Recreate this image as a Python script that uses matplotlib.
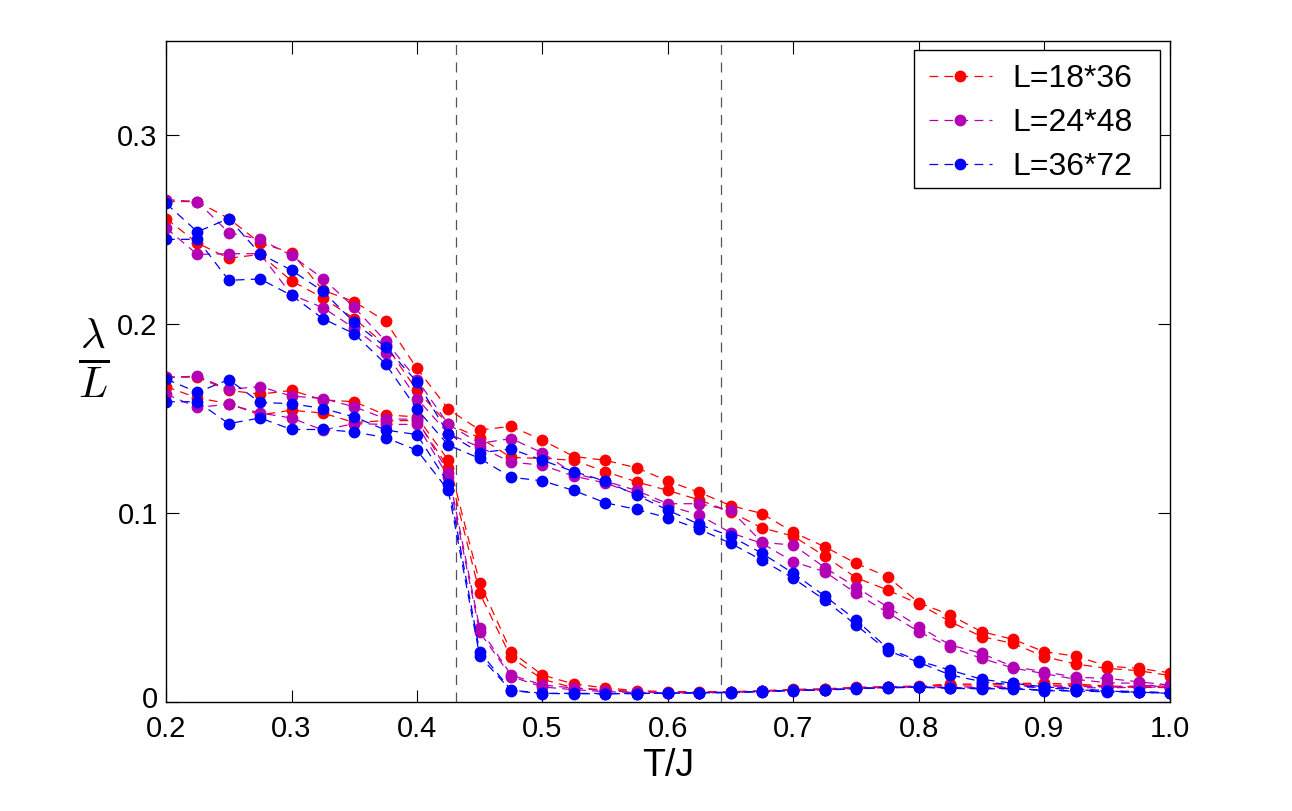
import matplotlib
matplotlib.use("Agg")
import matplotlib.pyplot as plt
import matplotlib.transforms as mtransforms
from matplotlib.patches import Rectangle
import numpy as np

plt.rcParams['font.family'] = ['Liberation Sans', 'DejaVu Sans']

# temperature grid T/J
T = np.round(np.arange(0.2, 1.0001, 0.025), 3)

# upper branch (slow decay), two curves per size
red_up_a = [0.265, 0.265, 0.256, 0.243, 0.238, 0.218, 0.212, 0.2016, 0.1766, 0.155, 0.144, 0.146, 0.1386,
            0.130, 0.128, 0.124, 0.117, 0.111, 0.104, 0.0998, 0.0898, 0.0822, 0.0734, 0.0663, 0.0526,
            0.046, 0.0372, 0.0332, 0.0266, 0.0243, 0.019, 0.0178, 0.0155]
red_up_b = [0.256, 0.243, 0.235, 0.237, 0.223, 0.214, 0.203, 0.189, 0.165, 0.147, 0.140, 0.1295, 0.129,
            0.128, 0.122, 0.1166, 0.112, 0.107, 0.1007, 0.0922, 0.0878, 0.0772, 0.0658, 0.0593, 0.0519,
            0.0425, 0.0346, 0.031, 0.024, 0.0201, 0.0178, 0.0166, 0.0140]
mag_up_a = [0.266, 0.265, 0.2485, 0.245, 0.2365, 0.2242, 0.209, 0.191, 0.1707, 0.147, 0.137, 0.1395, 0.1319,
            0.121, 0.117, 0.112, 0.105, 0.105, 0.1015, 0.0845, 0.0831, 0.0712, 0.0607, 0.0504, 0.0399,
            0.0302, 0.0257, 0.0187, 0.016, 0.0131, 0.0125, 0.0107, 0.009]
mag_up_b = [0.251, 0.237, 0.2374, 0.2374, 0.2157, 0.2088, 0.198, 0.185, 0.1607, 0.142, 0.135, 0.127, 0.1254,
            0.1196, 0.116, 0.110, 0.104, 0.099, 0.0896, 0.084, 0.0742, 0.069, 0.0575, 0.0473, 0.0372,
            0.029, 0.0231, 0.018, 0.015, 0.012, 0.0102, 0.0099, 0.0072]
blu_up_a = [0.264, 0.249, 0.256, 0.2374, 0.2286, 0.2175, 0.201, 0.188, 0.1695, 0.142, 0.132, 0.134, 0.128,
            0.122, 0.117, 0.1095, 0.1016, 0.094, 0.0878, 0.0787, 0.0681, 0.0561, 0.0434, 0.0284, 0.0217,
            0.0169, 0.012, 0.0099, 0.008, 0.007, 0.006, 0.0055, 0.0048]
blu_up_b = [0.245, 0.245, 0.2233, 0.224, 0.2153, 0.203, 0.195, 0.179, 0.155, 0.136, 0.129, 0.119, 0.1171,
            0.112, 0.1055, 0.102, 0.0975, 0.0915, 0.084, 0.0751, 0.0654, 0.054, 0.0407, 0.0272, 0.021,
            0.0143, 0.0108, 0.009, 0.0075, 0.0065, 0.0058, 0.0052, 0.0046]

# lower branch (drops to zero), two curves per size
red_lo_a = [0.172, 0.172, 0.165, 0.163, 0.165, 0.160, 0.159, 0.152, 0.151, 0.128, 0.063, 0.0266, 0.0143,
            0.0095, 0.0075, 0.006, 0.0055, 0.0055, 0.0055, 0.006, 0.0067, 0.007, 0.0078, 0.0081, 0.0085,
            0.0095, 0.0095, 0.0099, 0.0099, 0.0095, 0.0085, 0.008, 0.008]
red_lo_b = [0.167, 0.161, 0.158, 0.152, 0.1545, 0.153, 0.148, 0.149, 0.149, 0.124, 0.0575, 0.0236, 0.012,
            0.0075, 0.0065, 0.0055, 0.005, 0.005, 0.0052, 0.0058, 0.0063, 0.0068, 0.0075, 0.008, 0.0082,
            0.009, 0.009, 0.0092, 0.009, 0.0088, 0.008, 0.0078, 0.0076]
mag_lo_a = [0.172, 0.1725, 0.1656, 0.167, 0.162, 0.1607, 0.1563, 0.150, 0.1496, 0.1215, 0.039, 0.0143, 0.009,
            0.0074, 0.006, 0.0052, 0.005, 0.005, 0.0052, 0.0058, 0.0063, 0.0066, 0.0074, 0.0078, 0.008,
            0.008, 0.008, 0.0085, 0.0085, 0.0082, 0.008, 0.0085, 0.0092]
mag_lo_b = [0.163, 0.156, 0.1577, 0.153, 0.1504, 0.144, 0.1474, 0.147, 0.147, 0.119, 0.037, 0.0135, 0.008,
            0.0065, 0.0055, 0.005, 0.0048, 0.0048, 0.005, 0.0055, 0.006, 0.0064, 0.0072, 0.0076, 0.0078,
            0.0076, 0.0075, 0.0078, 0.0078, 0.0076, 0.0075, 0.0078, 0.008]
blu_lo_a = [0.171, 0.164, 0.1707, 0.1586, 0.158, 0.1554, 0.151, 0.144, 0.1416, 0.1157, 0.0266, 0.0063, 0.0046,
            0.0046, 0.0045, 0.0045, 0.0047, 0.005, 0.0052, 0.0056, 0.0063, 0.0065, 0.0072, 0.0078, 0.008,
            0.0075, 0.0072, 0.0072, 0.0063, 0.006, 0.0056, 0.0053, 0.0049]
blu_lo_b = [0.159, 0.159, 0.1474, 0.1504, 0.1443, 0.1443, 0.143, 0.140, 0.1333, 0.112, 0.0243, 0.006, 0.0045,
            0.0044, 0.0043, 0.0045, 0.0046, 0.0048, 0.005, 0.0054, 0.006, 0.0063, 0.007, 0.0075, 0.0078,
            0.0072, 0.007, 0.007, 0.006, 0.0058, 0.0054, 0.0051, 0.0047]

labels = ['L=18*36', 'L=24*48', 'L=36*72']
colors = ['#ff0000', '#b400b4', '#0000ff']
vlines = [0.431, 0.642]

groups = [
    [red_up_a, red_up_b, red_lo_a, red_lo_b],
    [mag_up_a, mag_up_b, mag_lo_a, mag_lo_b],
    [blu_up_a, blu_up_b, blu_lo_a, blu_lo_b],
]

fig = plt.figure(figsize=(12.92, 8.11), dpi=100)
ax = fig.add_axes([0.1285, 0.1344, 0.777, 0.815])

for x in vlines:
    ax.axvline(x, color='#555555', lw=0.9, dashes=(8, 6), zorder=1)

handles = []
for series, c, lab in zip(groups, colors, labels):
    for k, y in enumerate(series):
        h, = ax.plot(T, y, color=c, lw=0.9, dashes=(7, 5), marker='o', ms=8.5,
                     markeredgewidth=0, zorder=2)
        if k == 0:
            handles.append(h)

ax.set_xlim(0.2, 1.0)
ax.set_ylim(0, 0.35)
ax.set_xticks(np.arange(0.2, 1.01, 0.1))
ax.set_xticklabels(['%.1f' % v for v in np.arange(0.2, 1.01, 0.1)])
ax.set_yticks([0, 0.1, 0.2, 0.3])
ax.set_yticklabels(['0', '0.1', '0.2', '0.3'])
ax.tick_params(direction='in', top=True, right=True, length=9, width=0.8,
               labelsize=21)
ax.tick_params(axis='x', pad=9)
ax.tick_params(axis='y', pad=6)
for s in ax.spines.values():
    s.set_linewidth(1.0)

# nudge the "0" label up a little so it clears the "0.2" below it
zero_lbl = ax.get_yticklabels()[0]
zero_lbl.set_transform(zero_lbl.get_transform() +
                       mtransforms.ScaledTranslation(0, 5 / 100, fig.dpi_scale_trans))

ax.set_xlabel('T/J', fontsize=27, labelpad=4)
ax.set_ylabel(r'$\frac{\lambda}{L}$', fontsize=44, rotation=0, math_fontfamily='cm',
              va='center', ha='center')
ax.yaxis.set_label_coords(-0.072, 0.52)

# legend box drawn separately (wider right margin, as in the original)
ax.add_patch(Rectangle((0.745, 0.7776), 0.245, 0.2088, transform=ax.transAxes,
                       facecolor='white', edgecolor='black', lw=1.0, zorder=4))
leg = ax.legend(handles, labels, loc='center left', fontsize=23, frameon=False,
                handlelength=1.97, borderpad=0, labelspacing=0.44, handletextpad=0.63,
                borderaxespad=0, bbox_to_anchor=(0.760, 0.876))
leg.set_zorder(5)

fig.savefig('out.png', dpi=100)
